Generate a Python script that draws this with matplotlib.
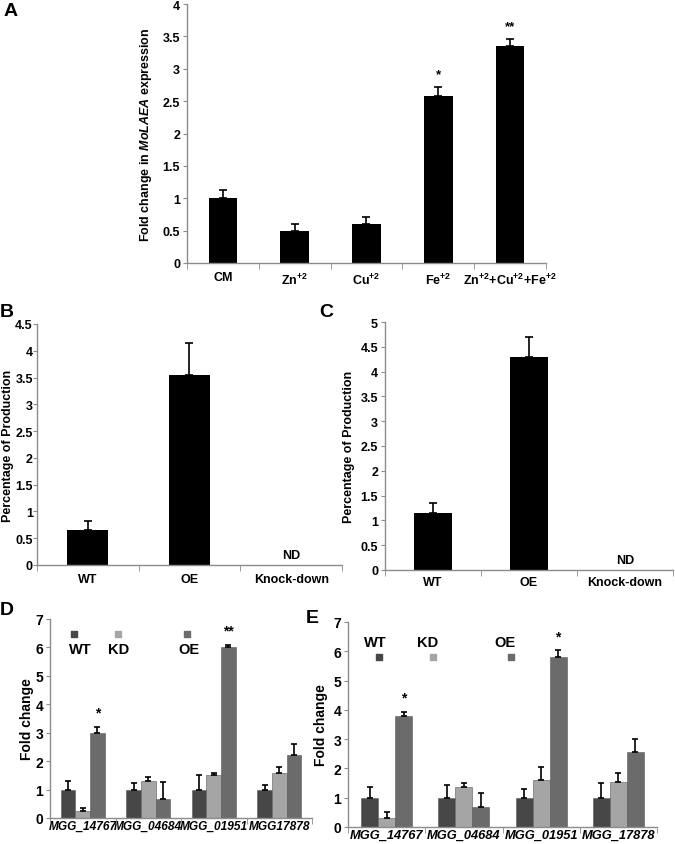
import matplotlib
matplotlib.use("Agg")
import matplotlib.pyplot as plt
import numpy as np

plt.rcParams['font.family'] = ['Liberation Sans', 'DejaVu Sans']
plt.rcParams['font.weight'] = 'bold'
plt.rcParams['mathtext.fontset'] = 'custom'
plt.rcParams['mathtext.rm'] = 'Liberation Sans:bold'
plt.rcParams['mathtext.it'] = 'Liberation Sans:italic:bold'
plt.rcParams['mathtext.bf'] = 'Liberation Sans:bold'

# ---------------- data ----------------
a_cats = ['CM', 'Zn$^{+2}$', 'Cu$^{+2}$', 'Fe$^{+2}$', 'Zn$^{+2}$+Cu$^{+2}$+Fe$^{+2}$']
a_vals = [1.0, 0.5, 0.6, 2.58, 3.35]
a_err = [0.12, 0.1, 0.11, 0.14, 0.11]
a_sig = ['', '', '', '*', '**']

b_cats = ['WT', 'OE', 'Knock-down']
b_vals = [0.65, 3.55, 0.0]
b_err = [0.18, 0.6, 0.0]

c_cats = ['WT', 'OE', 'Knock-down']
c_vals = [1.15, 4.29, 0.0]
c_err = [0.21, 0.41, 0.0]

d_genes = ['MGG_14767', 'MGG_04684', 'MGG_01951', 'MGG17878']
d_wt = [1.0, 1.0, 1.0, 1.0]
d_wt_err = [0.3, 0.23, 0.5, 0.17]
d_kd = [0.25, 1.3, 1.5, 1.6]
d_kd_err = [0.09, 0.15, 0.1, 0.2]
d_oe = [3.0, 0.67, 6.0, 2.2]
d_oe_err = [0.2, 0.6, 0.09, 0.4]
d_sig = ['*', '', '**', '']

e_genes = ['MGG_14767', 'MGG_04684', 'MGG_01951', 'MGG_17878']
e_wt = [1.0, 1.0, 1.0, 1.0]
e_wt_err = [0.36, 0.43, 0.3, 0.5]
e_kd = [0.3, 1.37, 1.6, 1.53]
e_kd_err = [0.2, 0.14, 0.46, 0.33]
e_oe = [3.8, 0.67, 5.8, 2.57]
e_oe_err = [0.12, 0.5, 0.23, 0.42]
e_sig = ['*', '', '*', '']

series_names = ['WT', 'KD', 'OE']
series_colors = ['#474747', '#a5a5a5', '#6b6b6b']

# ---------------- figure ----------------
W, H = 675, 845
fig = plt.figure(figsize=(W / 100, H / 100), dpi=100)

def px_axes(x0, x1, ytop, ybot):
    return fig.add_axes([x0 / W, 1 - ybot / H, (x1 - x0) / W, (ybot - ytop) / H])

SPINE = '#8c8c8c'

def style(ax, n, ymax, ystep, labels, tick_fs, label_fs, italic=False, pad=5):
    for s in ['top', 'right']:
        ax.spines[s].set_visible(False)
    for s in ['left', 'bottom']:
        ax.spines[s].set_color(SPINE)
        ax.spines[s].set_linewidth(1.0)
    ax.set_xlim(-0.5, n - 0.5)
    ax.set_ylim(0, ymax)
    ax.set_yticks(np.arange(0, ymax + 1e-9, ystep))
    ax.set_yticklabels([('%g' % v) for v in np.arange(0, ymax + 1e-9, ystep)],
                       fontsize=tick_fs, fontweight='bold')
    ax.set_xticks(range(n))
    ax.set_xticklabels(labels, fontsize=label_fs, fontweight='bold',
                       fontstyle='italic' if italic else 'normal')
    ax.set_xticks(np.arange(-0.5, n, 1.0), minor=True)
    ax.tick_params(axis='x', which='major', length=0, pad=pad)
    ax.tick_params(axis='x', which='minor', length=4, color=SPINE, direction='out')
    ax.tick_params(axis='y', length=3, color=SPINE, direction='out', pad=2)

# ---- Panel A ----
axA = px_axes(187, 546, 5, 264)
xA = np.arange(len(a_vals))
axA.bar(xA, a_vals, width=0.4, color='black')
axA.errorbar(xA, a_vals, yerr=[np.zeros(len(a_err)), a_err], fmt='none',
             ecolor='black', elinewidth=1.2, capsize=3, capthick=1.2)
for x, v, e, s in zip(xA, a_vals, a_err, a_sig):
    if s:
        axA.text(x, v + e + 0.1, s, ha='center', va='bottom', fontsize=9.5, fontweight='bold')
style(axA, len(a_vals), 4, 0.5, a_cats, 9, 9, pad=6)
axA.set_ylabel('Fold change in $\\mathit{MoLAEA}$ expression', fontsize=9,
               fontweight='bold', labelpad=6)

# ---- Panel B ----
axB = px_axes(37, 342, 325, 566)
xB = np.arange(len(b_vals))
axB.bar(xB, b_vals, width=0.4, color='black')
axB.errorbar(xB[:2], b_vals[:2], yerr=[np.zeros(2), b_err[:2]], fmt='none',
             ecolor='black', elinewidth=1.2, capsize=3, capthick=1.2)
axB.text(2, 0.08, 'ND', ha='center', va='bottom', fontsize=9, fontweight='bold')
style(axB, 3, 4.5, 0.5, b_cats, 9, 9, pad=6)
axB.tick_params(axis='y', pad=0)
axB.set_ylabel('Percentage of Production', fontsize=9, fontweight='bold', labelpad=1)

# ---- Panel C ----
axC = px_axes(385, 673, 323, 571)
xC = np.arange(len(c_vals))
axC.bar(xC, c_vals, width=0.4, color='black')
axC.errorbar(xC[:2], c_vals[:2], yerr=[np.zeros(2), c_err[:2]], fmt='none',
             ecolor='black', elinewidth=1.2, capsize=3, capthick=1.2)
axC.text(2, 0.08, 'ND', ha='center', va='bottom', fontsize=9, fontweight='bold')
style(axC, 3, 5, 0.5, c_cats, 9, 9, pad=4)
axC.set_ylabel('Percentage of Production', fontsize=9, fontweight='bold', labelpad=4)

# ---- grouped panels ----
def grouped(ax, genes, series, errs, sig, width, sq_x, sq_y, lab_x, lab_y, ylpad, gfs):
    n = len(genes)
    x = np.arange(n)
    offs = [-width, 0, width]
    for k, (vals, err) in enumerate(zip(series, errs)):
        ax.bar(x + offs[k], vals, width=width, color=series_colors[k],
               edgecolor='#5a5a5a', linewidth=0.4)
        ax.errorbar(x + offs[k], vals, yerr=[np.zeros(n), err], fmt='none',
                    ecolor='black', elinewidth=1.2, capsize=2.5, capthick=1.2)
        ax.scatter([sq_x[k]], [sq_y], marker='s', s=22, color=series_colors[k], zorder=3)
        ax.text(lab_x[k], lab_y, series_names[k], ha='center', va='center',
                fontsize=10.5, fontweight='bold')
    oe, oe_err = series[2], errs[2]
    for i, s in enumerate(sig):
        if s:
            ax.text(x[i] + width, oe[i] + oe_err[i] + 0.25, s, ha='center',
                    va='bottom', fontsize=10, fontweight='bold')
    style(ax, n, 7, 1, genes, 10, gfs, italic=True, pad=1.5)
    ax.set_ylabel('Fold change', fontsize=10, fontweight='bold', labelpad=ylpad)

axD = px_axes(50, 312, 620, 819)
grouped(axD, d_genes, [d_wt, d_kd, d_oe], [d_wt_err, d_kd_err, d_oe_err], d_sig,
        0.225, [-0.134, 0.538, 1.59], 6.48, [-0.04, 0.546, 1.615], 5.95, 1, 8.6)

axE = px_axes(348, 657, 623, 828)
grouped(axE, e_genes, [e_wt, e_kd, e_oe], [e_wt_err, e_kd_err, e_oe_err], e_sig,
        0.22, [-0.097, 0.604, 1.604], 5.8, [-0.149, 0.526, 1.526], 6.31, 4, 9.3)

# ---- panel letters ----
def letter(t, x, y):
    fig.text(x / W, 1 - y / H, t, fontsize=14, fontweight='bold', ha='left', va='top')

letter('A', 4, 3)
letter('B', 0, 304)
letter('C', 319, 304)
letter('D', 0, 602)
letter('E', 306, 610)

fig.savefig('out.png', dpi=100)
